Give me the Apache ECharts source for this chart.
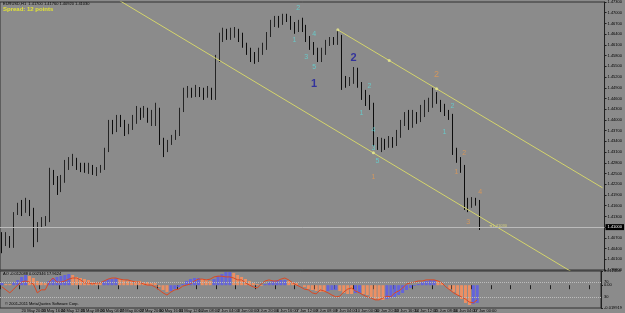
<!DOCTYPE html>
<html lang="en">
<head>
<meta charset="UTF-8">
<title>EURUSD,H1</title>
<script src="https://cdn.jsdelivr.net/npm/echarts@6/dist/echarts.min.js"></script>
<style>
  html, body { margin: 0; padding: 0; background: #8b8b8b; }
  #chart { width: 625px; height: 313px; }
</style>
</head>
<body>
<div id="chart"></div>
<script>
// price bars (open = previous close)
var firstOpen = 1.4070;
var closes = [
  1.4058, 1.4070, 1.4056, 1.4137, 1.4154, 1.4142, 1.4162, 1.4148, 1.4064, 1.4106,
  1.4114, 1.4120, 1.4246, 1.4238, 1.4204, 1.4232, 1.4274, 1.4282, 1.4288, 1.4274,
  1.4268, 1.4266, 1.4271, 1.4257, 1.4260, 1.4266, 1.4316, 1.4386, 1.4372, 1.4406,
  1.4394, 1.4366, 1.4378, 1.4400, 1.4428, 1.4411, 1.4428, 1.4406, 1.4414, 1.4428,
  1.4344, 1.4316, 1.4336, 1.4350, 1.4360, 1.4428, 1.4470, 1.4478, 1.4470, 1.4484,
  1.4478, 1.4470, 1.4484, 1.4467, 1.4568, 1.4630, 1.4644, 1.4635, 1.4646, 1.4652,
  1.4635, 1.4610, 1.4596, 1.4574, 1.4568, 1.4590, 1.4602, 1.4638, 1.4674, 1.4680,
  1.4674, 1.4688, 1.4686, 1.4666, 1.4652, 1.4666, 1.4658, 1.4630, 1.4613, 1.4596,
  1.4574, 1.4590, 1.4610, 1.4624, 1.4618, 1.4630, 1.4512, 1.4506, 1.4512, 1.4540,
  1.4506, 1.4476, 1.4462, 1.4442, 1.4338, 1.4330, 1.4338, 1.4327, 1.4344, 1.4336,
  1.4358, 1.4394, 1.4406, 1.4386, 1.4414, 1.4400, 1.4428, 1.4434, 1.4445, 1.4470,
  1.4456, 1.4439, 1.4422, 1.4411, 1.4316, 1.4294, 1.4274, 1.4176, 1.4162, 1.4176,
  1.4170, 1.4103
];
var highs = [
  1.4086, 1.4086, 1.4075, 1.4142, 1.4168, 1.4176, 1.4182, 1.4176, 1.4154, 1.4114,
  1.4128, 1.4131, 1.4266, 1.4260, 1.4243, 1.4246, 1.4288, 1.4296, 1.4305, 1.4294,
  1.4280, 1.4280, 1.4280, 1.4274, 1.4268, 1.4274, 1.4322, 1.4400, 1.4400, 1.4414,
  1.4414, 1.4400, 1.4389, 1.4414, 1.4439, 1.4434, 1.4439, 1.4434, 1.4428, 1.4448,
  1.4434, 1.4350, 1.4344, 1.4358, 1.4372, 1.4434, 1.4490, 1.4495, 1.4490, 1.4498,
  1.4492, 1.4490, 1.4495, 1.4490, 1.4582, 1.4644, 1.4658, 1.4655, 1.4658, 1.4660,
  1.4655, 1.4644, 1.4616, 1.4602, 1.4590, 1.4602, 1.4616, 1.4646, 1.4680, 1.4691,
  1.4691, 1.4697, 1.4697, 1.4691, 1.4674, 1.4680, 1.4686, 1.4666, 1.4635, 1.4618,
  1.4602, 1.4602, 1.4624, 1.4632, 1.4632, 1.4652, 1.4638, 1.4523, 1.4520, 1.4548,
  1.4546, 1.4506, 1.4484, 1.4470, 1.4448, 1.4352, 1.4350, 1.4347, 1.4355, 1.4352,
  1.4372, 1.4400, 1.4422, 1.4428, 1.4428, 1.4422, 1.4442, 1.4456, 1.4462, 1.4490,
  1.4478, 1.4456, 1.4445, 1.4428, 1.4417, 1.4322, 1.4296, 1.4274, 1.4182, 1.4184,
  1.4182, 1.4176
];
var lows = [
  1.4027, 1.4047, 1.4042, 1.4042, 1.4134, 1.4131, 1.4140, 1.4131, 1.4044, 1.4058,
  1.4098, 1.4103, 1.4114, 1.4218, 1.4190, 1.4198, 1.4224, 1.4260, 1.4271, 1.4260,
  1.4254, 1.4252, 1.4249, 1.4246, 1.4243, 1.4252, 1.4260, 1.4310, 1.4360, 1.4366,
  1.4380, 1.4355, 1.4360, 1.4372, 1.4389, 1.4400, 1.4406, 1.4392, 1.4383, 1.4383,
  1.4330, 1.4296, 1.4310, 1.4330, 1.4344, 1.4355, 1.4422, 1.4462, 1.4462, 1.4464,
  1.4464, 1.4456, 1.4462, 1.4456, 1.4456, 1.4562, 1.4618, 1.4624, 1.4624, 1.4630,
  1.4618, 1.4602, 1.4582, 1.4562, 1.4557, 1.4562, 1.4582, 1.4596, 1.4632, 1.4660,
  1.4658, 1.4666, 1.4674, 1.4652, 1.4641, 1.4646, 1.4646, 1.4618, 1.4596, 1.4582,
  1.4562, 1.4562, 1.4582, 1.4607, 1.4610, 1.4610, 1.4484, 1.4490, 1.4495, 1.4501,
  1.4490, 1.4456, 1.4439, 1.4428, 1.4327, 1.4316, 1.4310, 1.4316, 1.4322, 1.4322,
  1.4327, 1.4350, 1.4383, 1.4372, 1.4378, 1.4389, 1.4394, 1.4408, 1.4422, 1.4434,
  1.4445, 1.4422, 1.4411, 1.4400, 1.4302, 1.4280, 1.4252, 1.4148, 1.4142, 1.4154,
  1.4160, 1.4092
];

// AO histogram + oscillator line in the lower window
var ao = [
  0.0019, 0.0010, 0.0010, 0.0028, 0.0045, 0.0072, 0.0089, 0.0080, 0.0063, 0.0037,
  0.0028, 0.0019, 0.0037, 0.0063, 0.0072, 0.0080, 0.0089, 0.0098, 0.0089, 0.0072,
  0.0063, 0.0054, 0.0045, 0.0028, 0.0019, 0.0019, 0.0037, 0.0054, 0.0054, 0.0063,
  0.0054, 0.0045, 0.0037, 0.0037, 0.0037, 0.0037, 0.0028, 0.0028, 0.0019, 0.0019,
  -0.0016, -0.0042, -0.0059, -0.0051, -0.0033, -0.0016, 0.0010, 0.0037, 0.0054, 0.0063,
  0.0063, 0.0054, 0.0045, 0.0037, 0.0054, 0.0080, 0.0098, 0.0115, 0.0115, 0.0107,
  0.0089, 0.0072, 0.0054, 0.0037, 0.0019, 0.0010, -0.0007, 0.0010, 0.0028, 0.0037,
  0.0045, 0.0045, 0.0045, 0.0037, 0.0028, 0.0019, 0.0002, -0.0016, -0.0033, -0.0042,
  -0.0051, -0.0059, -0.0059, -0.0051, -0.0042, -0.0042, -0.0051, -0.0068, -0.0077, -0.0077,
  -0.0068, -0.0068, -0.0077, -0.0086, -0.0103, -0.0120, -0.0129, -0.0129, -0.0120, -0.0112,
  -0.0103, -0.0086, -0.0068, -0.0042, -0.0024, -0.0007, 0.0010, 0.0028, 0.0037, 0.0045,
  0.0045, 0.0037, 0.0019, 0.0002, -0.0033, -0.0059, -0.0086, -0.0120, -0.0155, -0.0173,
  -0.0164, -0.0155
];
var osc = [
  57, 49, 41, 51, 62, 70, 73, 70, 65, 41,
  49, 49, 70, 81, 70, 70, 73, 78, 81, 81,
  76, 68, 68, 65, 68, 68, 73, 78, 81, 81,
  78, 76, 76, 73, 70, 70, 65, 62, 62, 57,
  49, 41, 35, 43, 49, 51, 59, 62, 65, 73,
  78, 78, 76, 78, 84, 86, 86, 84, 84, 81,
  76, 76, 68, 62, 57, 54, 65, 73, 76, 73,
  73, 78, 81, 76, 68, 62, 57, 51, 49, 41,
  38, 49, 46, 41, 35, 30, 32, 43, 51, 54,
  46, 41, 35, 30, 27, 22, 22, 27, 32, 30,
  41, 46, 54, 65, 68, 70, 73, 73, 76, 76,
  76, 73, 68, 57, 49, 41, 35, 30, 24, 16,
  14, 22
];
var oscLevels = [70, 30];
var aoMin = -0.019919, aoMax = 0.012404;

var timeLabels = [
  '20 May 2011', '20 May 20:00', '23 May 16:00', '24 May 12:00', '25 May 08:00',
  '26 May 04:00', '27 May 00:00', '27 May 20:00', '30 May 16:00', '31 May 12:00',
  '1 Jun 08:00', '2 Jun 04:00', '3 Jun 00:00', '3 Jun 20:00', '6 Jun 16:00',
  '7 Jun 12:00', '8 Jun 08:00', '9 Jun 04:00', '10 Jun 00:00', '10 Jun 20:00',
  '13 Jun 16:00', '14 Jun 12:00', '15 Jun 08:00', '16 Jun 04:00', '17 Jun 00:00'
];
var labelStep = 5;
var totalBars = 153;

var priceMin = 1.398, priceMax = 1.473, priceStep = 0.003;

// trend channel (bar index, price)
var upperLine = [[85, 1.4652], [152, 1.4210]];
var lowerLine = [[29, 1.4739], [144, 1.3976]];
var lineDots = [[85, 1.4652], [98, 1.4566], [110, 1.4487], [94, 1.4308]];

// wave counts (bar index, price, text)
var cyanWaves = [
  [75, 1.4714, '2'], [74, 1.4624, '1'], [79, 1.4641, '4'], [77, 1.4576, '3'], [79, 1.4548, '5'],
  [93, 1.4495, '2'], [91, 1.4420, '1'], [94, 1.4372, '4'], [94, 1.4322, '3'], [95, 1.4285, '5'],
  [114, 1.4439, '2'], [112, 1.4366, '1']
];
var blueWaves = [[79, 1.4501, '1'], [89, 1.4574, '2']];
var orangeWaves = [
  [94, 1.4240, '1'], [115, 1.4254, '1'], [117, 1.4308, '2'], [118, 1.4114, '3'], [121, 1.4198, '4']
];
var orangeBigWaves = [[110, 1.4526, '2']];

var FONT = 'Liberation Sans';
var chart = echarts.init(document.getElementById('chart'));

var categories = [];
for (var i = 0; i < totalBars; i++) categories.push(String(i));

var candles = closes.map(function (c, i) {
    var o = i === 0 ? firstOpen : closes[i - 1];
    return [o, c, Math.min(lows[i], o, c), Math.max(highs[i], o, c)];
});
var lastBar = candles[candles.length - 1];
var lastClose = closes[closes.length - 1];

// AO colour: blue when rising, orange when falling
var aoData = [];
var rising = true;
for (var k = 0; k < ao.length; k++) {
    if (k > 0 && ao[k] !== ao[k - 1]) rising = ao[k] > ao[k - 1];
    aoData.push({value: ao[k], itemStyle: {color: rising ? '#6464dc' : '#ec9064'}});
}

function waveSeries(items, color, size, bold) {
    return {
        type: 'scatter', xAxisIndex: 0, yAxisIndex: 0,
        symbolSize: 1, silent: true, z: 6,
        itemStyle: {color: 'rgba(0,0,0,0)'},
        label: {
            show: true, position: 'inside', color: color, fontSize: size,
            fontWeight: bold ? 'bold' : 'normal', fontFamily: FONT,
            formatter: function (p) { return p.data[2]; }
        },
        data: items
    };
}

var trendStyle = {color: '#d4d46c', width: 1};

var option = {
    animation: false,
    backgroundColor: '#8b8b8b',
    textStyle: {fontFamily: FONT},
    grid: [
        {left: 0, right: 13, top: 2, bottom: 43, show: true, borderColor: '#303030', borderWidth: 1},
        {left: 0, right: 13, top: 271, bottom: 5, show: true, borderColor: '#303030', borderWidth: 1}
    ],
    xAxis: [
        {type: 'category', gridIndex: 0, data: categories, boundaryGap: true,
         axisLine: {show: false}, axisTick: {show: false}, axisLabel: {show: false}},
        {type: 'category', gridIndex: 1, data: categories, boundaryGap: true,
         axisLine: {show: false},
         axisTick: {show: true, interval: labelStep - 1, length: 4, lineStyle: {color: '#202020'}},
         axisLabel: {show: true, interval: labelStep - 1, fontSize: 4, color: '#000', margin: 1, align: 'left',
                     formatter: function (v, idx) { return timeLabels[idx / labelStep] || ''; }}}
    ],
    yAxis: [
        {type: 'value', gridIndex: 0, position: 'right', min: priceMin, max: priceMax, interval: priceStep,
         axisLine: {show: true, lineStyle: {color: '#202020'}},
         axisTick: {show: true, length: 2, lineStyle: {color: '#202020'}},
         splitLine: {show: false},
         axisLabel: {fontSize: 4, color: '#000', margin: 3,
                     formatter: function (v) { return v.toFixed(5); }}},
        {type: 'value', gridIndex: 1, position: 'right', min: aoMin, max: aoMax,
         axisLine: {show: true, lineStyle: {color: '#202020'}},
         axisTick: {show: true, length: 2, customValues: [aoMax, 0, aoMin], lineStyle: {color: '#202020'}},
         splitLine: {show: false},
         axisLabel: {fontSize: 4, color: '#000', margin: 3, customValues: [aoMax, 0, aoMin],
                     formatter: function (v) { return v === 0 ? '0.00' : v.toFixed(6); }}},
        {type: 'value', gridIndex: 1, position: 'right', min: 0, max: 100,
         axisLine: {show: false}, axisTick: {show: false}, splitLine: {show: false},
         axisLabel: {fontSize: 4, color: '#000', margin: 3, customValues: oscLevels}}
    ],
    graphic: [
        {type: 'text', left: 3, top: 2, silent: true,
         style: {text: 'EURUSD,H1  ' + lastBar[0].toFixed(5) + ' ' + lastBar[3].toFixed(5) + ' ' +
                       lastBar[2].toFixed(5) + ' ' + lastBar[1].toFixed(5),
                 fontSize: 4, fill: '#000', fontFamily: FONT}},
        {type: 'text', left: 3, top: 6, silent: true,
         style: {text: 'Spread: 12 points', fontSize: 6, fontWeight: 'bold', fill: '#e2e236', fontFamily: FONT}},
        {type: 'text', left: 3, top: 272, silent: true,
         style: {text: 'AO -0.012088 0.002346 17.9624', fontSize: 4, fill: '#000', fontFamily: FONT}},
        {type: 'text', left: 5, top: 302, silent: true,
         style: {text: '\u00a9 2001-2011 MetaQuotes Software Corp.', fontSize: 4, fill: '#000', fontFamily: FONT}}
    ],
    series: [
        {
            type: 'candlestick', xAxisIndex: 0, yAxisIndex: 0, barWidth: 1,
            itemStyle: {color: '#2c2c2c', color0: '#141414', borderColor: '#242424', borderColor0: '#0c0c0c', borderWidth: 1},
            data: candles,
            markLine: {
                silent: true, symbol: ['none', 'none'], animation: false,
                lineStyle: {color: '#bababa', width: 1, type: 'solid'},
                label: {show: true, position: 'end', distance: 1, fontSize: 4, color: '#fff',
                        backgroundColor: '#000', padding: [1, 2],
                        formatter: function (p) { return p.value.toFixed(5); }},
                data: [{yAxis: lastClose}]
            }
        },
        {type: 'line', xAxisIndex: 0, yAxisIndex: 0, data: upperLine, symbol: 'none',
         lineStyle: trendStyle, silent: true, z: 4},
        {type: 'line', xAxisIndex: 0, yAxisIndex: 0, data: lowerLine, symbol: 'none',
         lineStyle: trendStyle, silent: true, z: 4},
        {type: 'scatter', xAxisIndex: 0, yAxisIndex: 0, data: lineDots, symbolSize: 3,
         itemStyle: {color: '#ecec90'}, silent: true, z: 5},
        {type: 'scatter', xAxisIndex: 0, yAxisIndex: 0, data: [[123, lastClose]], symbolSize: 1,
         itemStyle: {color: 'rgba(0,0,0,0)'}, silent: true,
         label: {show: true, position: 'right', distance: 0, fontSize: 4, color: '#e6e07a',
                 formatter: function () { return '\u25c4' + lastClose.toFixed(5); }}},
        waveSeries(cyanWaves, '#62d6d6', 7, false),
        waveSeries(blueWaves, '#1c1ca0', 11, true),
        waveSeries(orangeWaves, '#e39a52', 7, false),
        waveSeries(orangeBigWaves, '#e39a52', 9, false),
        {type: 'bar', xAxisIndex: 1, yAxisIndex: 1, data: aoData, barWidth: 3, silent: true},
        {type: 'line', xAxisIndex: 1, yAxisIndex: 2, data: osc, symbol: 'none', silent: true,
         lineStyle: {color: '#dc4822', width: 1},
         markLine: {
             silent: true, symbol: ['none', 'none'], animation: false, label: {show: false},
             lineStyle: {color: '#bcbcbc', width: 1, type: 'dotted'},
             data: oscLevels.map(function (v) { return {yAxis: v}; })
         }}
    ]
};

chart.setOption(option);
</script>
</body>
</html>
